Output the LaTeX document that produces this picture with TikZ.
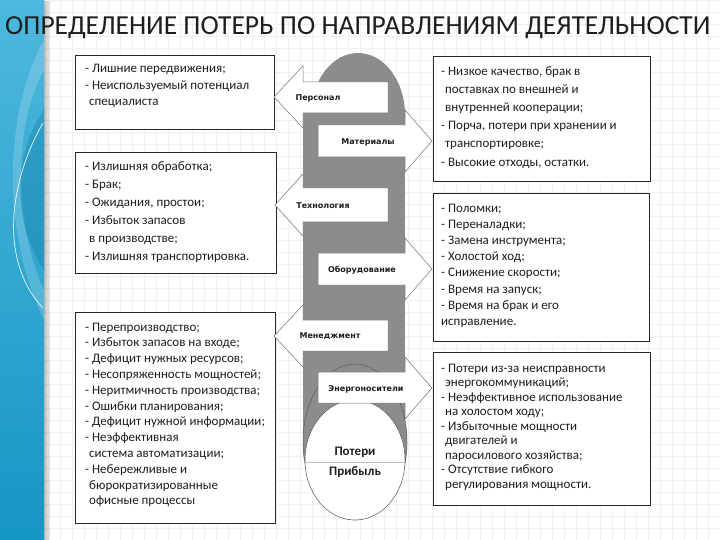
\documentclass[tikz,border=0pt]{standalone}
\usepackage{fontspec}
\setmainfont{Carlito}
\newfontfamily\dvs{DejaVu Sans}
\usetikzlibrary{fadings}
\definecolor{colg}{RGB}{140,140,140}
\definecolor{stripA}{RGB}{78,184,222}
\definecolor{stripB}{RGB}{22,150,196}
\definecolor{stripC}{RGB}{10,120,165}
\definecolor{ink}{RGB}{30,30,30}
\begin{document}
\begin{tikzpicture}[x=1pt,y=-1pt,
  box/.style={draw=black!85, line width=0.8pt, fill=white, inner sep=0pt, anchor=north west},
  txt/.style={anchor=north west, inner sep=0pt, align=left, text=ink},
  arr/.style={fill=white, draw=black!55, line width=0.5pt},
  alab/.style={inner sep=0pt, text=ink, font=\dvs\bfseries\fontsize{8}{9}\selectfont},
  plab/.style={inner sep=0pt, text=ink, font=\bfseries\fontsize{13}{14}\selectfont}]
\useasboundingbox (0,0) rectangle (720,540);
% background
\fill[white] (0,0) rectangle (720,540);
\draw[black!6, step=12pt] (44,0) grid (720,540);
% left strip
\shade[top color=stripA, bottom color=stripB] (0,0) rectangle (44,540);
\fill[white, opacity=0.18] (44,40) .. controls (5,110) and (0,230) .. (44,320) -- (44,290) .. controls (12,220) and (15,120) .. (44,70) -- cycle;
\fill[stripC, opacity=0.35] (44,110) .. controls (15,150) and (10,220) .. (44,270) -- cycle;
\draw[white, opacity=0.9, line width=0.7pt] (43,123) .. controls (10,180) and (-2,260) .. (43,308);
\fill[black, opacity=0.25, path fading=east] (44,0) rectangle (51,540);
% title
\node[anchor=base west, inner sep=0pt, text=ink, font=\fontsize{27.5}{29}\selectfont] (title) at (5,35) {ОПРЕДЕЛЕНИЕ ПОТЕРЬ ПО НАПРАВЛЕНИЯМ ДЕЯТЕЛЬНОСТИ};
% boxes
\node[box, minimum width=199pt, minimum height=74pt] (L1) at (75,55) {};
\node[box, minimum width=201pt, minimum height=121pt] (L2) at (75,152) {};
\node[box, minimum width=200pt, minimum height=211pt] (L3) at (75,312) {};
\node[box, minimum width=217pt, minimum height=125pt] (R1) at (433,56) {};
\node[box, minimum width=216pt, minimum height=148pt] (R2) at (433,193) {};
\node[box, minimum width=217pt, minimum height=153pt] (R3) at (433,352) {};
% box texts
\node[txt, font=\fontsize{13}{16.5}\selectfont] (L1t) at (85,64) {- Лишние передвижения;\\- Неиспользуемый потенциал\\\hspace*{4pt}специалиста};
\node[txt, font=\fontsize{13}{18}\selectfont] (L2t) at (85,161.5) {- Излишняя обработка;\\- Брак;\\- Ожидания, простои;\\- Избыток запасов\\\hspace*{4pt}в производстве;\\- Излишняя транспортировка.};
\node[txt, font=\fontsize{13}{15.8}\selectfont] (L3t) at (85,322.5) {- Перепроизводство;\\- Избыток запасов на входе;\\- Дефицит нужных ресурсов;\\- Несопряженность мощностей;\\- Неритмичность производства;\\- Ошибки планирования;\\- Дефицит нужной информации;\\- Неэффективная\\\hspace*{4pt}система автоматизации;\\- Небережливые и\\\hspace*{4pt}бюрократизированные\\\hspace*{4pt}офисные процессы};
\node[txt, font=\fontsize{13}{18.2}\selectfont] (R1t) at (441,66) {- Низкое качество, брак в\\\hspace*{4pt}поставках по внешней и\\\hspace*{4pt}внутренней кооперации;\\- Порча, потери при хранении и\\\hspace*{4pt}транспортировке;\\- Высокие отходы, остатки.};
\node[txt, font=\fontsize{13}{16.2}\selectfont] (R2t) at (441,203.5) {- Поломки;\\- Переналадки;\\- Замена инструмента;\\- Холостой ход;\\- Снижение скорости;\\- Время на запуск;\\- Время на брак и его\\исправление.};
\node[txt, font=\fontsize{13}{14.5}\selectfont] (R3t) at (441,363.5) {- Потери из-за неисправности\\\hspace*{4pt}энергокоммуникаций;\\- Неэффективное использование\\\hspace*{4pt}на холостом ходу;\\- Избыточные мощности\\\hspace*{4pt}двигателей и\\\hspace*{4pt}паросилового хозяйства;\\- Отсутствие гибкого\\\hspace*{4pt}регулирования мощности.};
% central column
\fill[colg] (358,115) ellipse [x radius=47, y radius=62];
\fill[colg] (303,113) rectangle (405,442);
\fill[colg] (355,442) ellipse [x radius=52, y radius=78];
\draw[black!65, line width=0.5pt] (355,442) ellipse [x radius=52, y radius=78];
\filldraw[fill=white, draw=black!65, line width=0.5pt] (355,460) ellipse [x radius=50, y radius=60];
\begin{scope}
  \clip (355,460) ellipse [x radius=50, y radius=60];
  \draw[black!25, line width=0.5pt] (300,462) -- (410,462);
\end{scope}
\node[plab] (poteri) at (355,452) {Потери};
\node[plab] (pribyl) at (355,472) {Прибыль};
% arrows
\draw[arr] (388,82) -- (303,82) -- (303,66) -- (274,97) -- (303,128) -- (303,113) -- (388,113) -- cycle;
\draw[arr] (318,125) -- (405,125) -- (405,110) -- (432,141) -- (405,172) -- (405,157) -- (318,157) -- cycle;
\draw[arr] (388,188) -- (303,188) -- (303,174) -- (275,205) -- (303,236) -- (303,222) -- (388,222) -- cycle;
\draw[arr] (318,253) -- (405,253) -- (405,238) -- (432,269) -- (405,300) -- (405,285) -- (318,285) -- cycle;
\draw[arr] (388,320) -- (303,320) -- (303,305) -- (274,336) -- (303,367) -- (303,351) -- (388,351) -- cycle;
\draw[arr] (318,372) -- (405,372) -- (405,357) -- (432,388) -- (405,419) -- (405,403) -- (318,403) -- cycle;
% arrow labels
\node[alab] (a1) at (318,98) {Персонал};
\node[alab] (a2) at (368,142) {Материалы};
\node[alab] (a3) at (323,206) {Технология};
\node[alab] (a4) at (362,270) {Оборудование};
\node[alab] (a5) at (330,336) {Менеджмент};
\node[alab] (a6) at (366,389) {Энергоносители};
\end{tikzpicture}
\end{document}
